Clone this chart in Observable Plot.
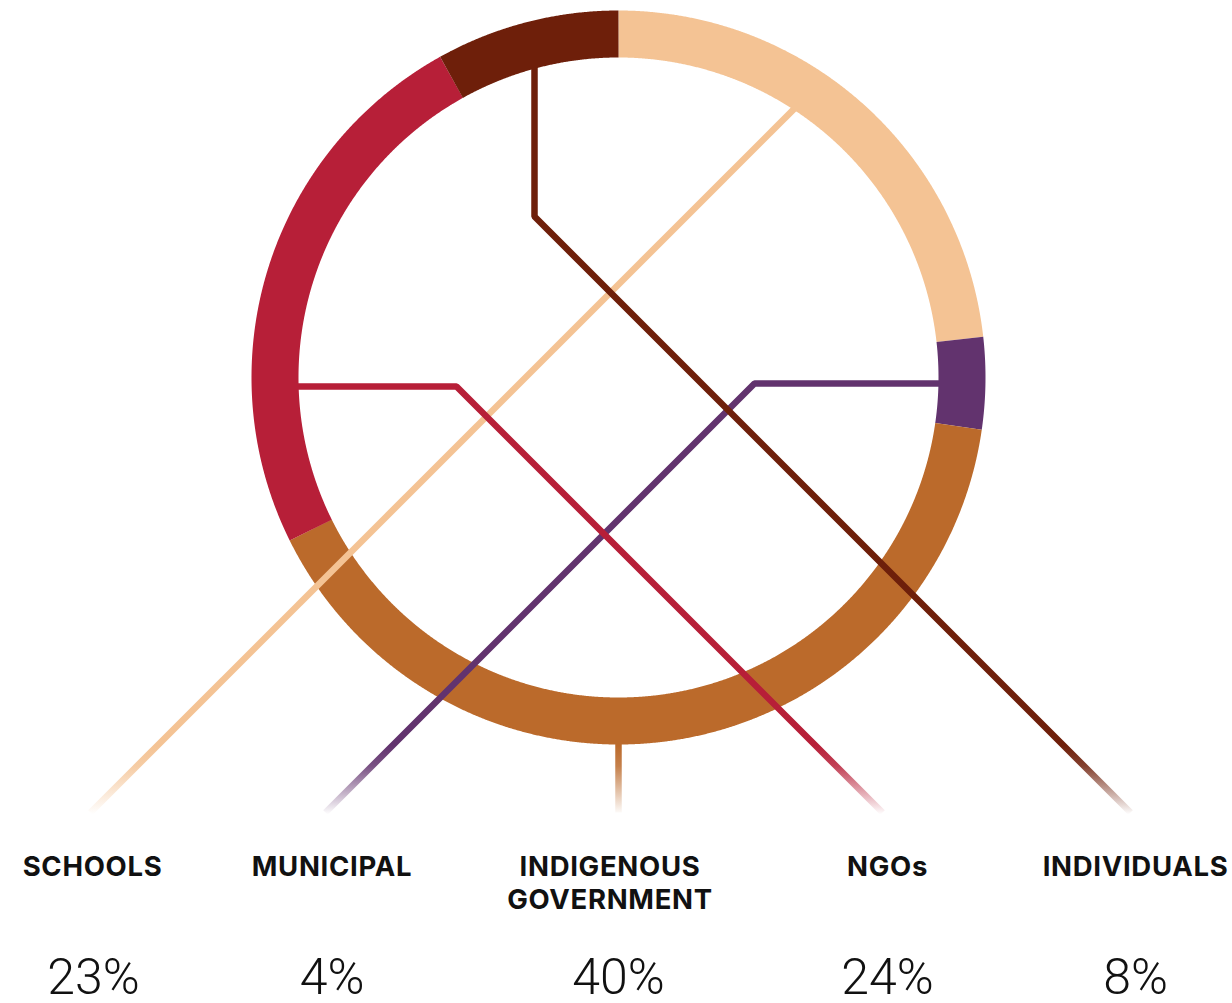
<!DOCTYPE html>
<html>
<head>
<meta charset="utf-8">
<script src="https://cdn.jsdelivr.net/npm/d3@7"></script>
<script src="https://cdn.jsdelivr.net/npm/@observablehq/plot@0.6"></script>
<style>
  html, body { margin: 0; padding: 0; background: #fff; }
</style>
</head>
<body>
<div id="chart"></div>
<script>
// ---- data ----
const categories = ["SCHOOLS", "MUNICIPAL", "INDIGENOUS\nGOVERNMENT", "NGOs", "INDIVIDUALS"];
const shares = [23, 4, 40, 24, 8];
const percentLabels = ["23%", "4%", "40%", "24%", "8%"];
const colors = ["#F4C394", "#62336E", "#BB6A2B", "#B71F38", "#6E1F0A"];

// ---- layout ----
const W = 1232, H = 1003;
const cx = 618, cy = 377, rOut = 367, rIn = 320;
const rMid = (rOut + rIn) / 2, ringWidth = rOut - rIn;
const labelX = [92, 331.5, 609.5, 887, 1135];
const percentX = [93, 331.5, 618, 887, 1135];
// leader routes: start + elbows, then final direction to the ring (far/near hit)
const leaders = [
  {pts: [[90, 812]], dir: [1, -1], hit: "far"},
  {pts: [[325, 812], [754, 383]], dir: [1, 0], hit: "far"},
  {pts: [[618, 812]], dir: [0, -1], hit: "near"},
  {pts: [[882, 812], [456, 386]], dir: [-1, 0], hit: "far"},
  {pts: [[1130, 812], [534, 216]], dir: [0, -1], hit: "far"}
];

// ---- ring geometry from the data ----
const arcs = d3.pie().sort(null).value(d => d)(shares);
const ringPts = [];
arcs.forEach((a, i) => {
  const n = Math.max(2, Math.ceil((a.endAngle - a.startAngle) / 0.003));
  for (let k = 0; k <= n; k++) {
    const t = a.startAngle + (a.endAngle - a.startAngle) * k / n;
    ringPts.push({cat: categories[i], x: cx + rMid * Math.sin(t), y: cy - rMid * Math.cos(t)});
  }
});

function hitCircle(p, d, r, which) {
  const len = Math.hypot(d[0], d[1]);
  const ux = d[0] / len, uy = d[1] / len;
  const fx = p[0] - cx, fy = p[1] - cy;
  const b = fx * ux + fy * uy;
  const c = fx * fx + fy * fy - r * r;
  const disc = Math.sqrt(b * b - c);
  const t1 = -b - disc, t2 = -b + disc;
  const t = which === "near" ? (t1 > 0 ? t1 : t2) : t2;
  return [p[0] + ux * t, p[1] + uy * t];
}

const leaderMarks = leaders.map((L, i) => {
  const last = L.pts[L.pts.length - 1];
  const end = hitCircle(last, L.dir, rMid, L.hit);
  const pts = [...L.pts, end].map(([x, y]) => ({x, y}));
  return Plot.line(pts, {
    x: "x", y: "y",
    stroke: `url(#fade-${i})`,
    strokeWidth: 6.5,
    strokeLinejoin: "miter",
    strokeLinecap: "butt",
    curve: "linear"
  });
});

const labelData = categories.map((c, i) => ({label: c, x: labelX[i], px: percentX[i], pct: percentLabels[i]}));

const svg = Plot.plot({
  width: W,
  height: H,
  margin: 0,
  x: {domain: [0, W], range: [0, W], axis: null},
  y: {domain: [0, H], range: [0, H], axis: null},
  color: {domain: categories, range: colors},
  style: {background: "white"},
  marks: [
    Plot.line(ringPts, {
      x: "x", y: "y", z: "cat", stroke: "cat",
      strokeWidth: ringWidth, strokeLinecap: "butt", strokeLinejoin: "round", curve: "linear"
    }),
    ...leaderMarks,
    Plot.text(labelData, {
      x: "x", y: () => 852, text: "label",
      fontFamily: "Inter", fontWeight: 700, fontSize: 27.5, fontVariant: "small-caps",
      lineAnchor: "top", lineHeight: 1.2, fill: "#111", textAnchor: "middle"
    }),
    Plot.text(labelData, {
      x: "px", y: () => 958, text: "pct",
      fontFamily: "Roboto", fontWeight: 300, fontSize: 50,
      lineAnchor: "top", fill: "#111", textAnchor: "middle"
    })
  ]
});

// wider tracking for the bold labels
svg.querySelectorAll('g[font-size="27.5"]').forEach(g => g.setAttribute("letter-spacing", "0.7"));

// gradient definitions for the fading leader ends
const ns = "http://www.w3.org/2000/svg";
const defs = document.createElementNS(ns, "defs");
colors.forEach((col, i) => {
  const g = document.createElementNS(ns, "linearGradient");
  g.setAttribute("id", `fade-${i}`);
  g.setAttribute("gradientUnits", "userSpaceOnUse");
  g.setAttribute("x1", 0); g.setAttribute("x2", 0);
  g.setAttribute("y1", 745); g.setAttribute("y2", 814);
  [[0, 1], [0.3, 0.85], [1, 0]].forEach(([o, a]) => {
    const s = document.createElementNS(ns, "stop");
    s.setAttribute("offset", o);
    s.setAttribute("stop-color", col);
    s.setAttribute("stop-opacity", a);
    g.appendChild(s);
  });
  defs.appendChild(g);
});
svg.insertBefore(defs, svg.firstChild);
document.getElementById("chart").appendChild(svg);
</script>
</body>
</html>
